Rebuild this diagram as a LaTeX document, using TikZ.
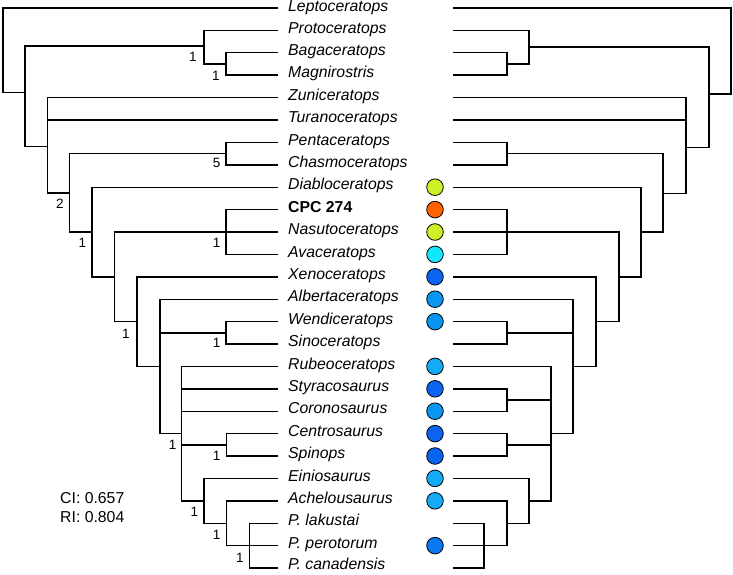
\documentclass[tikz,border=0pt]{standalone}
\usepackage{fontspec}
\setmainfont{Liberation Sans}
\definecolor{clime}{HTML}{CCF02A}
\definecolor{corange}{HTML}{FF6200}
\definecolor{ccyan}{HTML}{14E6FF}
\definecolor{cdark}{HTML}{0A64F0}
\definecolor{cmed}{HTML}{0A96F0}
\definecolor{clight}{HTML}{14AAF5}
\definecolor{cpero}{HTML}{0A78F0}
\begin{document}
\begin{tikzpicture}[x=1pt,y=-1pt,
  br/.style={line width=1.4pt, line join=miter},
  taxon/.style={anchor=mid west, inner sep=0pt, font=\fontsize{15.8}{18}\selectfont\itshape},
  supp/.style={inner sep=0pt, font=\fontsize{13.5}{15}\selectfont},
  stat/.style={anchor=mid west, inner sep=0pt, font=\fontsize{15.8}{18}\selectfont},
  dot/.style={circle, draw=black, line width=0.8pt, minimum size=16.6pt, inner sep=0pt}]
\useasboundingbox (0,0) rectangle (733,575);

% leaf end points
\foreach \n [count=\i from 0] in {lep,pro,bag,mag,zun,tur,pen,cha,dia,cpc,nas,ava,xen,alb,wen,sin,rub,sty,cor,cen,spi,ein,ach,plk,ppe,pca}{
  \coordinate (L\n) at (278,8+22.4*\i);
  \coordinate (R\n) at (453,8+22.4*\i);
}

% taxon labels
\node[taxon] (tlep) at (288,9.3) {Leptoceratops};
\node[taxon] (tpro) at (288,30.4) {Protoceratops};
\node[taxon] (tbag) at (288,52.8) {Bagaceratops};
\node[taxon] (tmag) at (288,75.2) {Magnirostris};
\node[taxon] (tzun) at (288,97.6) {Zuniceratops};
\node[taxon] (ttur) at (288,120) {Turanoceratops};
\node[taxon] (tpen) at (288,142.4) {Pentaceratops};
\node[taxon] (tcha) at (288,164.8) {Chasmoceratops};
\node[taxon] (tdia) at (288,187.2) {Diabloceratops};
\node[taxon,font=\fontsize{15.8}{18}\selectfont\bfseries] (tcpc) at (288,209.6) {CPC 274};
\node[taxon] (tnas) at (288,232) {Nasutoceratops};
\node[taxon] (tava) at (288,254.4) {Avaceratops};
\node[taxon] (txen) at (288,276.8) {Xenoceratops};
\node[taxon] (talb) at (288,299.2) {Albertaceratops};
\node[taxon] (twen) at (288,321.6) {Wendiceratops};
\node[taxon] (tsin) at (288,344) {Sinoceratops};
\node[taxon] (trub) at (288,366.4) {Rubeoceratops};
\node[taxon] (tsty) at (288,388.8) {Styracosaurus};
\node[taxon] (tcor) at (288,411.2) {Coronosaurus};
\node[taxon] (tcen) at (288,433.6) {Centrosaurus};
\node[taxon] (tspi) at (288,456) {Spinops};
\node[taxon] (tein) at (288,478.4) {Einiosaurus};
\node[taxon] (tach) at (288,500.8) {Achelousaurus};
\node[taxon] (tplk) at (288,523.2) {P. lakustai};
\node[taxon] (tppe) at (288,545.6) {P. perotorum};
\node[taxon] (tpca) at (288,567) {P. canadensis};

% colour circles
\node[dot,fill=clime]   (cdia) at (435,187.2) {};
\node[dot,fill=corange] (ccpc) at (435,209.6) {};
\node[dot,fill=clime]   (cnas) at (435,232) {};
\node[dot,fill=ccyan]   (cava) at (435,254.4) {};
\node[dot,fill=cdark]   (cxen) at (435,276.8) {};
\node[dot,fill=cmed]    (calb) at (435,299.2) {};
\node[dot,fill=cmed]    (cwen) at (435,321.6) {};
\node[dot,fill=clight]  (crub) at (435,366.4) {};
\node[dot,fill=cdark]   (csty) at (435,388.8) {};
\node[dot,fill=cmed]    (ccor) at (435,411.2) {};
\node[dot,fill=cdark]   (ccen) at (435,433.6) {};
\node[dot,fill=cdark]   (cspi) at (435,456) {};
\node[dot,fill=clight]  (cein) at (435,478.4) {};
\node[dot,fill=clight]  (cach) at (435,500.8) {};
\node[dot,fill=cpero]   (cppe) at (435,545.6) {};

% ---------- left tree ----------
\coordinate (lA) at (226,64);
\coordinate (lB) at (204,46);
\coordinate (lC) at (226,153.6);
\coordinate (lD) at (226,232);
\coordinate (lE) at (226,332.8);
\coordinate (lF) at (226.7,444.8);
\coordinate (lG) at (249.3,545.6);
\coordinate (lH) at (226.7,523.2);
\coordinate (lI) at (204,500.8);
\coordinate (lJ) at (181.7,433.6);
\coordinate (lK) at (160,366.4);
\coordinate (lL) at (137,321.6);
\coordinate (lM) at (114.7,276.8);
\coordinate (lN) at (92,232);
\coordinate (lO) at (69.3,192.8);
\coordinate (lP) at (47.3,146.7);
\coordinate (lQ) at (25,92.3);
\coordinate (lR) at (3,50);

\draw[br] (Lbag) -| (lA) (Lmag) -| (lA);
\draw[br] (Lpro) -| (lB) (lA) -| (lB);
\draw[br] (Lpen) -| (lC) (Lcha) -| (lC);
\draw[br] (Lcpc) -| (lD) (Lnas) -| (lD) (Lava) -| (lD);
\draw[br] (Lwen) -| (lE) (Lsin) -| (lE);
\draw[br] (Lcen) -| (lF) (Lspi) -| (lF);
\draw[br] (Lplk) -| (lG) (Lppe) -| (lG) (Lpca) -| (lG);
\draw[br] (Lach) -| (lH) (lG) -| (lH);
\draw[br] (Lein) -| (lI) (lH) -| (lI);
\draw[br] (Lrub) -| (lJ) (Lsty) -| (lJ) (Lcor) -| (lJ) (lF) -| (lJ) (lI) -| (lJ);
\draw[br] (Lalb) -| (lK) (lE) -| (lK) (lJ) -| (lK);
\draw[br] (Lxen) -| (lL) (lK) -| (lL);
\draw[br] (lD) -| (lM) (lL) -| (lM);
\draw[br] (Ldia) -| (lN) (lM) -| (lN);
\draw[br] (lC) -| (lO) (lN) -| (lO);
\draw[br] (Lzun) -| (lP) (Ltur) -| (lP) (lO) -| (lP);
\draw[br] (lB) -| (lQ) (lP) -| (lQ);
\draw[br] (Llep) -| (lR) (lQ) -| (lR);

% support values
\node[supp] (sB) at (193,57) {1};
\node[supp] (sA) at (216,76) {1};
\node[supp] (sC) at (216.7,163.3) {5};
\node[supp] (sO) at (60,203.3) {2};
\node[supp] (sN) at (82.3,243.3) {1};
\node[supp] (sD) at (216.7,243.3) {1};
\node[supp] (sL) at (126,334) {1};
\node[supp] (sE) at (216.7,343.3) {1};
\node[supp] (sJ) at (172.7,445) {1};
\node[supp] (sF) at (216.7,456) {1};
\node[supp] (sI) at (194.3,511.7) {1};
\node[supp] (sH) at (216.7,535) {1};
\node[supp] (sG) at (240,558.3) {1};

% ---------- right tree ----------
\coordinate (ra) at (507,64);
\coordinate (rb) at (529,47.2);
\coordinate (rc) at (507,153.6);
\coordinate (rd) at (507,232);
\coordinate (rh) at (507,332.8);
\coordinate (rj) at (507,400);
\coordinate (rk) at (507,444.8);
\coordinate (rn) at (484,545.6);
\coordinate (rm) at (507,523.2);
\coordinate (rl) at (529,500.8);
\coordinate (ri) at (551,433.6);
\coordinate (rg) at (573,366.4);
\coordinate (rf) at (596,321.6);
\coordinate (re) at (619,276.8);
\coordinate (ro) at (641,232);
\coordinate (rp) at (663,193.5);
\coordinate (rq) at (686,147.7);
\coordinate (rr) at (709,94);
\coordinate (rs) at (731,50);

\draw[br] (Rbag) -| (ra) (Rmag) -| (ra);
\draw[br] (Rpro) -| (rb) (ra) -| (rb);
\draw[br] (Rpen) -| (rc) (Rcha) -| (rc);
\draw[br] (Rcpc) -| (rd) (Rava) -| (rd);
\draw[br] (Rwen) -| (rh) (Rsin) -| (rh);
\draw[br] (Rsty) -| (rj) (Rcor) -| (rj);
\draw[br] (Rcen) -| (rk) (Rspi) -| (rk);
\draw[br] (Rplk) -| (rn) (Rpca) -| (rn);
\draw[br] (Rach) -| (rm) (Rppe) -| (rm) (rn) -| (rm);
\draw[br] (Rein) -| (rl) (rm) -| (rl);
\draw[br] (Rrub) -| (ri) (rj) -| (ri) (rk) -| (ri) (rl) -| (ri);
\draw[br] (Ralb) -| (rg) (rh) -| (rg) (ri) -| (rg);
\draw[br] (Rxen) -| (rf) (rg) -| (rf);
\draw[br] (Rnas) -| (re) (rd) -| (re) (rf) -| (re);
\draw[br] (Rdia) -| (ro) (re) -| (ro);
\draw[br] (rc) -| (rp) (ro) -| (rp);
\draw[br] (Rzun) -| (rq) (Rtur) -| (rq) (rp) -| (rq);
\draw[br] (rb) -| (rr) (rq) -| (rr);
\draw[br] (Rlep) -| (rs) (rr) -| (rs);

% statistics
\node[stat] (ci) at (60,500.7) {CI: 0.657};
\node[stat] (ri) at (60,520) {RI: 0.804};
\end{tikzpicture}
\end{document}
